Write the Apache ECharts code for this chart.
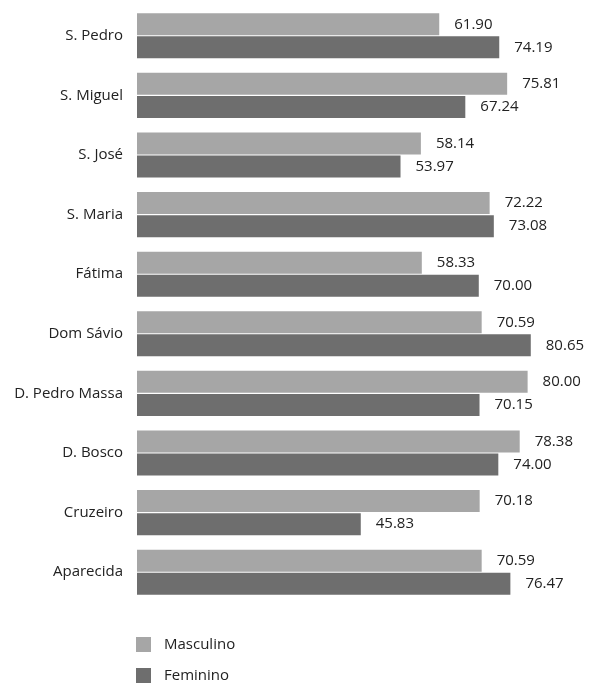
<!DOCTYPE html>
<html lang="pt">
<head>
    <meta charset="UTF-8">
    <title>Masculino / Feminino por bairro</title>
    <script src="https://cdn.jsdelivr.net/npm/echarts@6/dist/echarts.min.js"></script>
    <style>
        html, body { margin: 0; padding: 0; background: #fff; }
    </style>
</head>
<body>
<div id="chart" style="width: 589px;height: 685px;"></div>
<script>
    // dados
    var bairros = ['S. Pedro', 'S. Miguel', 'S. José', 'S. Maria', 'Fátima',
        'Dom Sávio', 'D. Pedro Massa', 'D. Bosco', 'Cruzeiro', 'Aparecida'];
    var masculino = [61.90, 75.81, 58.14, 72.22, 58.33, 70.59, 80.00, 78.38, 70.18, 70.59];
    var feminino = [74.19, 67.24, 53.97, 73.08, 70.00, 80.65, 70.15, 74.00, 45.83, 76.47];

    var fonte = '"Open Sans", Lato, sans-serif';

    var myChart = echarts.init(document.getElementById('chart'));

    function rotulo() {
        return {
            show: true,
            position: 'right',
            distance: 15,
            color: '#222',
            fontSize: 15,
            fontFamily: fonte,
            formatter: function (p) { return p.value.toFixed(2); }
        };
    }

    var option = {
        animation: false,
        grid: { left: 137, top: 6, width: 437, height: 596 },
        legend: {
            orient: 'vertical',
            left: 136,
            top: 637,
            padding: 0,
            itemWidth: 15,
            itemHeight: 15,
            itemGap: 16,
            icon: 'rect',
            textStyle: { color: '#222', fontSize: 15, fontFamily: fonte, padding: [0, 0, 0, 8] },
            data: ['Masculino', 'Feminino']
        },
        xAxis: {
            type: 'value',
            min: 0,
            max: 89.5,
            show: false
        },
        yAxis: {
            type: 'category',
            inverse: true,
            data: bairros,
            axisLine: { show: false },
            axisTick: { show: false },
            axisLabel: { color: '#222', fontSize: 15, fontFamily: fonte, margin: 14 }
        },
        series: [
            {
                name: 'Masculino',
                type: 'bar',
                data: masculino,
                barWidth: 22,
                barGap: '5%',
                itemStyle: { color: '#a6a6a6' },
                label: rotulo()
            },
            {
                name: 'Feminino',
                type: 'bar',
                data: feminino,
                barWidth: 22,
                itemStyle: { color: '#6e6e6e' },
                label: rotulo()
            }
        ]
    };

    myChart.setOption(option);
</script>
</body>
</html>
